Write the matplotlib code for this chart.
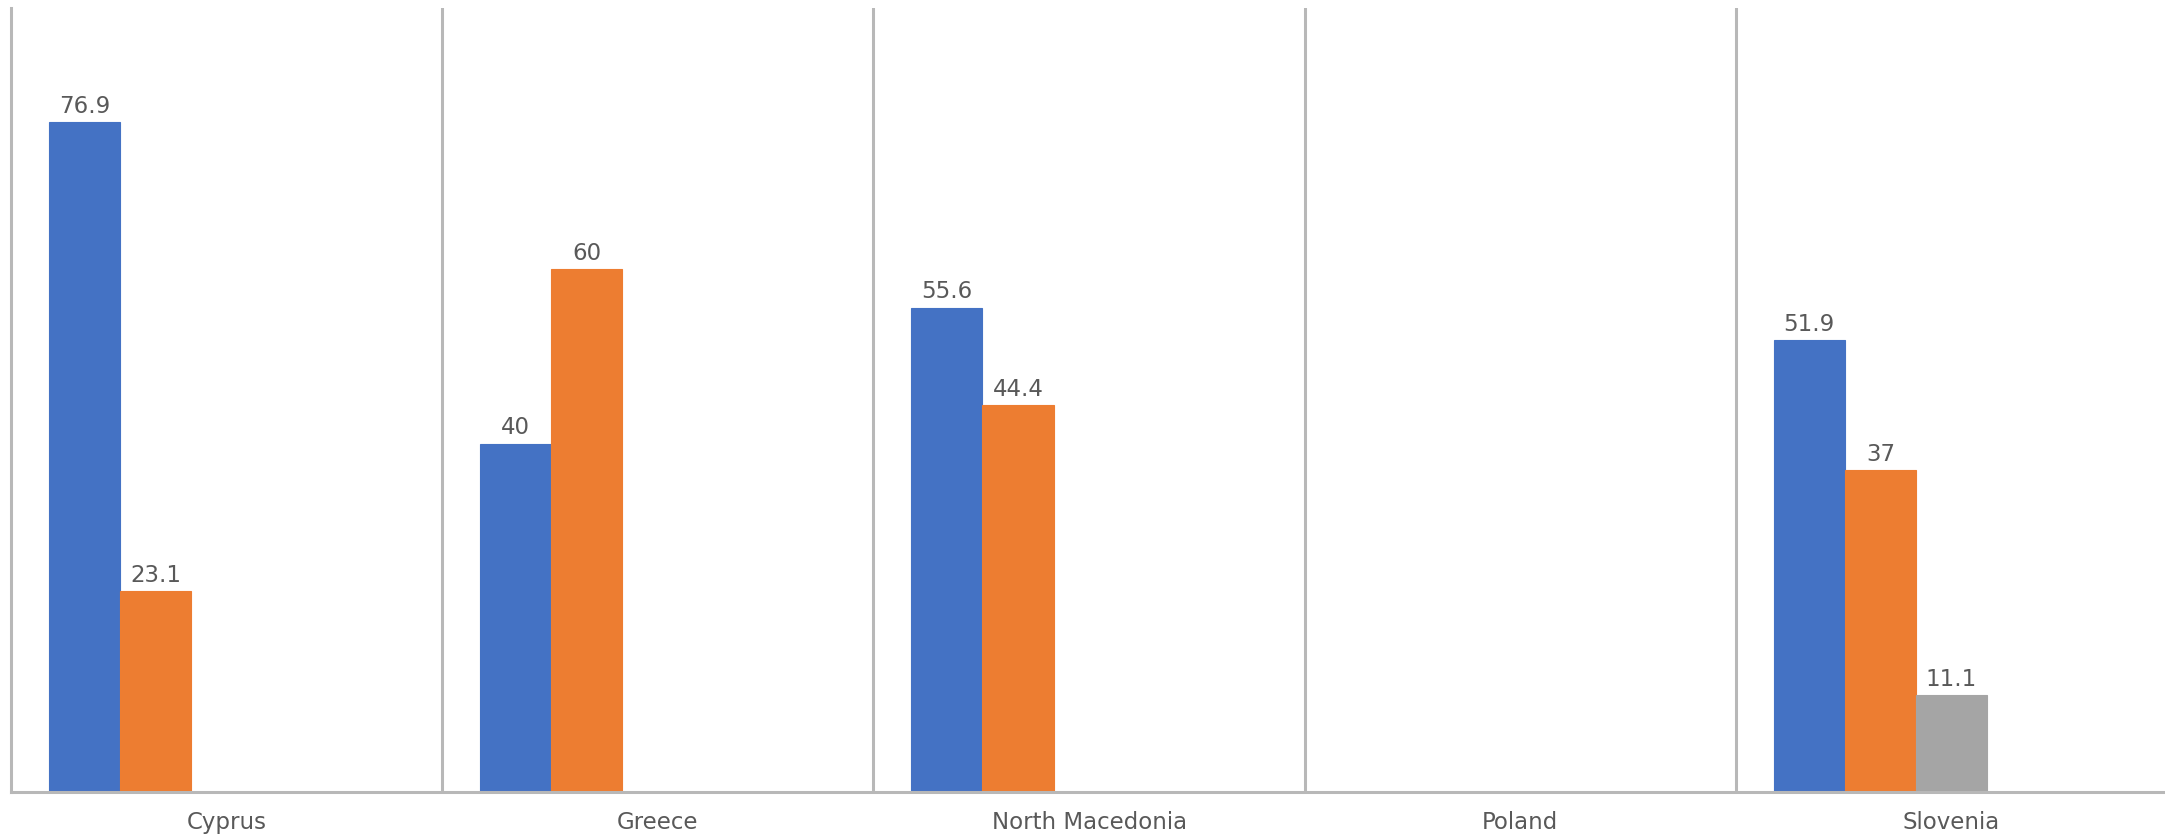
import numpy as np
import matplotlib
matplotlib.use("Agg")
import matplotlib.pyplot as plt

# Categories and the three series that carry data (five series slots in the original chart)
countries = ["Cyprus", "Greece", "North Macedonia", "Poland", "Slovenia"]
series_blue = [76.9, 40, 55.6, np.nan, 51.9]
series_orange = [23.1, 60, 44.4, np.nan, 37]
series_gray = [np.nan, np.nan, np.nan, np.nan, 11.1]

series = [series_blue, series_orange, series_gray]
colors = ["#4472C4", "#ED7D31", "#A5A5A5"]
n_slots = 5
bar_w = 0.165
line_col = "#b8b8b8"
text_col = "#595959"

W, H = 2165, 838
fig = plt.figure(figsize=(W / 100, H / 100), dpi=100)
ax = fig.add_axes([11 / W, (H - 792) / H, (W - 11) / W + 0.001, (792 - 8) / H])

x = np.arange(len(countries))
for i, (vals, c) in enumerate(zip(series, colors)):
    offs = (i - (n_slots - 1) / 2) * bar_w
    vals = np.array(vals, dtype=float)
    ax.bar(x + offs, np.nan_to_num(vals), width=bar_w, color=c,
           edgecolor=c, linewidth=0.8, zorder=3)
    for xi, v in zip(x + offs, vals):
        if np.isnan(v):
            continue
        ax.annotate(f"{v:g}", (xi, v), xytext=(0, 3), textcoords="offset points",
                    ha="center", va="bottom", fontsize=16.5, color=text_col)

# vertical separators between categories
for sep in np.arange(0.5, len(countries) - 1, 1.0):
    ax.axvline(sep, color=line_col, linewidth=2.2, zorder=1)

ax.set_xlim(-0.5, len(countries) - 0.5)
ax.set_ylim(0, 90)
ax.set_yticks([])
ax.set_xticks(x)
ax.set_xticklabels(countries, fontsize=16.5, color=text_col)
ax.tick_params(axis="x", length=0, pad=14)
for s in ["top", "right"]:
    ax.spines[s].set_visible(False)
ax.spines["left"].set_color(line_col)
ax.spines["left"].set_linewidth(2.2)
ax.spines["bottom"].set_color(line_col)
ax.spines["bottom"].set_linewidth(2.2)
ax.spines["bottom"].set_zorder(4)

fig.savefig("out.png", dpi=100)
